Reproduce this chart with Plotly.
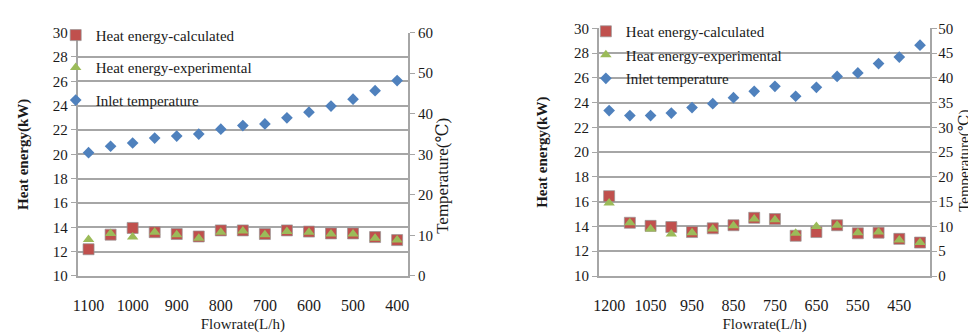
import plotly.graph_objects as go

# ---------------- data ----------------
left_flow = ["1100", "1050", "1000", "950", "900", "850", "800", "750",
             "700", "650", "600", "550", "500", "450", "400"]
left_calc = [12.2, 13.4, 13.95, 13.6, 13.45, 13.25, 13.75, 13.75,
             13.45, 13.75, 13.65, 13.5, 13.5, 13.2, 12.95]
left_exp = [13.0, 13.5, 13.2, 13.6, 13.4, 13.1, 13.6, 13.7,
            13.4, 13.65, 13.6, 13.45, 13.45, 13.1, 12.95]
left_temp = [30.4, 32.0, 32.8, 34.0, 34.5, 35.0, 36.2, 37.1,
             37.5, 39.0, 40.4, 41.9, 43.6, 45.7, 48.2]

right_flow = ["1200", "1100", "1050", "1000", "950", "900", "850", "800",
              "750", "700", "650", "600", "550", "500", "450", "400"]
right_calc = [16.45, 14.3, 14.05, 13.95, 13.55, 13.85, 14.1, 14.7,
              14.6, 13.25, 13.55, 14.1, 13.45, 13.5, 13.0, 12.7]
right_exp = [15.9, 14.3, 13.8, 13.4, 13.5, 13.8, 14.05, 14.6,
             14.55, 13.45, 14.0, 14.1, 13.5, 13.55, 12.9, 12.7]
right_temp = [33.4, 32.4, 32.4, 32.9, 34.0, 34.8, 36.0, 37.3,
              38.3, 36.3, 38.1, 40.3, 41.0, 42.9, 44.2, 46.6]

names = ["Heat energy-calculated", "Heat energy-experimental", "Inlet temperature"]
y_title = "Heat energy(kW)"
y2_title = "Temperature(℃)"
x_title = "Flowrate(L/h)"

# ---------------- style ----------------
FONT = "Liberation Serif, Times New Roman, DejaVu Serif, serif"
TXT = "#1a1a1a"
RED = "#C0504D"
GREEN = "#9BBB59"
BLUE = "#4F81BD"
GRID = "#a6a6a6"
W, H = 976, 336


def px_x(a, b):
    return [a / W, b / W]


def px_y(top, bottom):
    return [(H - bottom) / H, (H - top) / H]


fig = go.Figure()


def add_panel(flow, calc, exp, temp, xa, ya, ya2, leg, grp):
    fig.add_trace(go.Scatter(
        x=flow, y=calc, mode="markers", name=names[0], xaxis=xa, yaxis=ya,
        legend=leg, legendgroup=grp + "a",
        marker=dict(symbol="square", size=11, color=RED,
                    line=dict(width=1, color="rgba(150,150,150,0.7)"))))
    fig.add_trace(go.Scatter(
        x=flow, y=exp, mode="markers", name=names[1], xaxis=xa, yaxis=ya,
        legend=leg, legendgroup=grp + "b",
        marker=dict(symbol="triangle-up", size=10, color=GREEN)))
    fig.add_trace(go.Scatter(
        x=flow, y=temp, mode="markers", name=names[2], xaxis=xa, yaxis=ya2,
        legend=leg, legendgroup=grp + "c",
        marker=dict(symbol="diamond", size=9, color=BLUE)))


add_panel(left_flow, left_calc, left_exp, left_temp, "x", "y", "y2", "legend", "L")
add_panel(right_flow, right_calc, right_exp, right_temp, "x2", "y3", "y4", "legend2", "R")

tickfont = dict(family=FONT, size=15, color=TXT)
titlefont = dict(family=FONT, size=15, color=TXT)

xcommon = dict(type="category", showgrid=False, showline=True, linecolor=GRID,
               linewidth=1.5, ticks="", tickfont=dict(family=FONT, size=16, color=TXT),
               ticklabelstandoff=14,
               title=dict(text=x_title, font=titlefont, standoff=6))
ycommon = dict(showgrid=True, gridcolor=GRID, gridwidth=1.5, showline=True,
               linecolor=GRID, linewidth=1.5, ticks="outside", ticklen=5,
               tickcolor=GRID, tickfont=tickfont, zeroline=False)

fig.update_layout(
    width=W, height=H,
    margin=dict(l=0, r=0, t=0, b=0),
    paper_bgcolor="white", plot_bgcolor="white",
    font=dict(family=FONT, color=TXT),
    xaxis=dict(xcommon, domain=px_x(64, 397), anchor="y",
               tickvals=left_flow[::2], range=[-0.5, len(left_flow) - 0.5]),
    yaxis=dict(ycommon, domain=px_y(17.5, 273), range=[10, 30], dtick=2,
               anchor="x",
               title=dict(text="<b>" + y_title + "</b>", font=titlefont, standoff=21)),
    yaxis2=dict(ycommon, overlaying="y", side="right", anchor="x",
                range=[0, 60], dtick=10, showgrid=False),
    xaxis2=dict(xcommon, domain=px_x(589, 923), anchor="y3",
                tickvals=right_flow[::2], range=[-0.5, len(right_flow) - 0.5]),
    yaxis3=dict(ycommon, domain=px_y(13, 273), range=[10, 30], dtick=2,
                anchor="x2",
                title=dict(text="<b>" + y_title + "</b>", font=titlefont, standoff=23)),
    yaxis4=dict(ycommon, overlaying="y3", side="right", anchor="x2",
                range=[0, 50], dtick=5, showgrid=False, ticklabelstandoff=-2),
    legend=dict(x=42 / W, y=1 - 3 / H, xanchor="left", yanchor="top",
                bgcolor="rgba(0,0,0,0)", font=dict(family=FONT, size=15, color=TXT),
                tracegroupgap=10, itemwidth=30),
    legend2=dict(x=576 / W, y=1 + 1 / H, xanchor="left", yanchor="top",
                 bgcolor="rgba(0,0,0,0)", font=dict(family=FONT, size=15, color=TXT),
                 tracegroupgap=1, itemwidth=30),
    annotations=[
        dict(text=y2_title, xref="paper", yref="paper", x=440 / W, y=1 - 168 / H,
             xanchor="center", yanchor="middle", textangle=-90, showarrow=False,
             xshift=-9, font=dict(family=FONT, size=17, color=TXT)),
        dict(text=y2_title, xref="paper", yref="paper", x=967 / W, y=1 - 152 / H,
             xanchor="center", yanchor="middle", textangle=-90, showarrow=False,
             xshift=-9, font=dict(family=FONT, size=15, color=TXT)),
    ],
)

fig.write_html("out.html")
